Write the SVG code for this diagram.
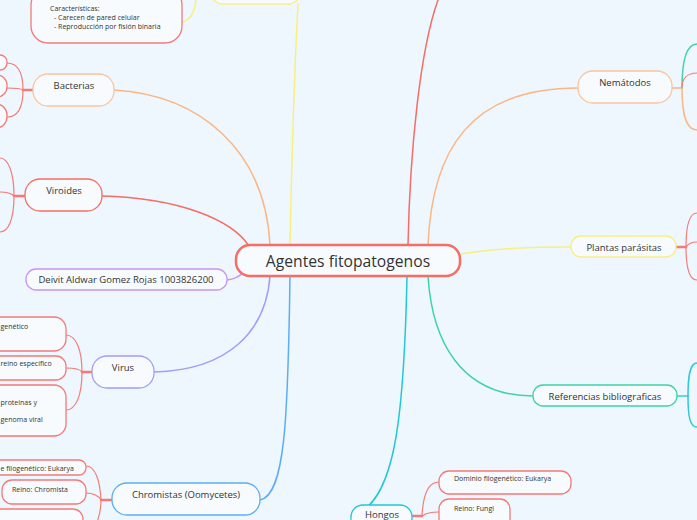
<svg xmlns="http://www.w3.org/2000/svg" width="697" height="520" viewBox="0 0 697 520">
<style>
text{font-family:"Open Sans","Noto Sans","Liberation Sans",sans-serif;fill:#333;}
.c{text-anchor:middle;dominant-baseline:central;font-size:9.5px;}
.s{font-size:7px;dominant-baseline:central;}
.n{fill:#f7fbfe;stroke-width:1.3;}
.leaf{fill:#f7fbfe;stroke:#f47a78;stroke-width:1.3;}
.e{fill:none;stroke-width:1.5;stroke-linecap:round;}
.r{stroke:#f56d66;}
.b{stroke:#f47a78;stroke-width:1.2;}
.bt{stroke:#f47a78;stroke-width:2.5;}
</style>
<rect width="697" height="520" fill="#eef7fd"/>
<g id="connectors">
<path class="e" stroke="#f9ef80" d="M290,245 C292,150 295,60 298,4"/>
<path class="e" stroke="#f9ef80" d="M182,22 C192,20 195,10 196,0"/>
<path class="e r" d="M408,245 C410,150 420,50 438,0"/>
<path class="e" stroke="#fcb583" d="M428,245 C432,150 470,88 578,88"/>
<path class="e" stroke="#f9ef80" d="M460,254 C500,248 530,247 571,247"/>
<path class="e" stroke="#3ed3a8" d="M428,276 C432,340 460,396 533,396"/>
<path class="e" stroke="#22c7d8" d="M407,276 C404,420 395,505 351,516"/>
<path class="e" stroke="#fcb583" d="M114,90 C200,95 265,150 270,245"/>
<path class="e r" d="M102,196 C180,198 232,220 249,246"/>
<path class="e" stroke="#c896ee" d="M227,280 C236,279 240,276 244,272"/>
<path class="e" stroke="#a39cfa" d="M154,372 C230,370 266,330 270,276"/>
<path class="e" stroke="#5cadf5" d="M260,500 C285,495 288,420 290,276"/>
<path class="e" stroke="#f2b28a" stroke-width="2.5" d="M672,88 L682,88"/>
<path class="e" stroke="#3ed3a8" stroke-width="1.2" d="M682,88 C682,60 686,44 697,44"/>
<path class="e b" d="M682,88 C682,78 688,73 697,73"/>
<path class="e" stroke="#fcb583" stroke-width="1.2" d="M682,88 C682,115 686,130 697,130"/>
<path class="e bt" d="M676,247 L686,247"/>
<path class="e b" d="M686,247 C686,225 689,213 697,213"/>
<path class="e b" d="M686,247 C688,244 692,242 697,242"/>
<path class="e b" d="M686,247 C686,268 689,280 697,280"/>
<path class="e" stroke="#3ccfc8" stroke-width="2.5" d="M677,396 L688,396"/>
<path class="e" stroke="#2ec9d6" stroke-width="1.2" d="M688,396 C688,375 690,363 697,363"/>
<path class="e" stroke="#2ec9d6" stroke-width="1.2" d="M688,396 C688,417 690,427 697,427"/>
<path class="e bt" d="M412,516 L422,516"/>
<path class="e b" d="M422,516 C423,495 428,482 439,482"/>
<path class="e b" d="M422,516 C426,513 431,512 439,512"/>
<path class="e bt" d="M33,90 L23,90"/>
<path class="e b" d="M23,90 C23,72 18,63 7,63"/>
<path class="e b" d="M23,90 C20,88 14,88 7,88"/>
<path class="e b" d="M23,90 C23,108 18,117 7,117"/>
<path class="e bt" d="M25,196 L14,196"/>
<path class="e b" d="M14,196 C14,172 8,158 0,158"/>
<path class="e b" d="M14,196 C11,193 6,192 0,192"/>
<path class="e b" d="M14,196 C14,220 8,232 0,232"/>
<path class="e bt" d="M92,372 L82,372"/>
<path class="e b" d="M82,372 C82,350 76,335 66,335"/>
<path class="e b" d="M82,372 C80,369 73,368 66,368"/>
<path class="e b" d="M82,372 C82,395 76,410 66,410"/>
<path class="e bt" d="M112,500 L101,500"/>
<path class="e b" d="M101,500 C100,480 95,466 86,466"/>
<path class="e b" d="M101,500 C99,496 93,493 86,493"/>
<path class="e b" d="M101,500 C101,510 99,517 97,522"/>
</g>
<g id="central"><rect x="236" y="245" width="224" height="31" rx="14" fill="#f7fbfe" stroke="#f56d66" stroke-width="2.5"/><text x="348" y="261" text-anchor="middle" dominant-baseline="central" font-size="15.7">Agentes fitopatogenos</text></g>
<g id="top-yellow"><rect class="n" x="212" y="-20" width="87" height="24" rx="10" stroke="#f9ef80"/></g>
<g id="caracteristicas"><rect class="leaf" x="31" y="-12" width="151" height="55" rx="17"/><text class="s" x="50" y="8">Características:</text><text class="s" x="54" y="17">- Carecen de pared celular</text><text class="s" x="54" y="26">- Reproducción por fisión binaria</text></g>
<g id="bacterias"><rect class="n" x="33" y="74" width="81" height="32" rx="15" stroke="#fcc49b"/><text class="c" x="74" y="85">Bacterias</text></g>
<g id="bact-leaves"><rect class="leaf" x="-30" y="55" width="37" height="15" rx="7"/><rect class="leaf" x="-30" y="75" width="37" height="22" rx="10"/><rect class="leaf" x="-30" y="104" width="37" height="24" rx="11"/></g>
<g id="viroides"><rect class="n" x="25" y="179" width="77" height="32" rx="15" stroke="#f56d66"/><text class="c" x="64" y="190">Viroides</text></g>
<g id="deivit"><rect class="n" x="26" y="269" width="201" height="21" rx="10" stroke="#c896ee"/><text class="c" x="126" y="279.5" font-size="9.3">Deivit Aldwar Gomez Rojas 1003826200</text></g>
<g id="virus"><rect class="n" x="92" y="356" width="62" height="32" rx="15" stroke="#a39cfa"/><text class="c" x="123" y="367">Virus</text></g>
<g id="virus-leaves">
<rect class="leaf" x="-40" y="317" width="106" height="34" rx="12"/><text class="s" x="0.5" y="326">genético</text>
<rect class="leaf" x="-40" y="356" width="106" height="24" rx="10"/><text class="s" x="0.5" y="363">reino específico</text>
<rect class="leaf" x="-40" y="385" width="106" height="51" rx="12"/><text class="s" x="0.5" y="402">proteinas y</text><text class="s" x="0.5" y="419">genoma viral</text>
</g>
<g id="chromistas"><rect class="n" x="112" y="483" width="148" height="32" rx="15" stroke="#5cadf5"/><text class="c" x="186" y="494">Chromistas (Oomycetes)</text></g>
<g id="chrom-leaves">
<rect class="leaf" x="-40" y="460" width="126" height="15" rx="7"/><text class="s" x="0.5" y="468">e filogenético: Eukarya</text>
<rect class="leaf" x="2" y="480" width="84" height="24" rx="10"/><text class="s" x="12" y="489">Reino: Chromista</text>
<rect class="leaf" x="-40" y="509" width="123" height="30" rx="10"/>
</g>
<g id="nematodos"><rect class="n" x="578" y="71" width="94" height="32" rx="15" stroke="#fcc49b"/><text class="c" x="625" y="82">Nemátodos</text></g>
<g id="plantas"><rect class="n" x="571" y="236" width="105" height="21" rx="10" stroke="#f9ef80"/><text class="c" x="624" y="247">Plantas parásitas</text></g>
<g id="referencias"><rect class="n" x="533" y="385" width="144" height="21" rx="10" stroke="#3ed3a8"/><text class="c" x="605" y="396">Referencias bibliograficas</text></g>
<g id="hongos"><rect class="n" x="351" y="505" width="61" height="30" rx="12" stroke="#22c7d8"/><text class="c" x="382" y="514.5">Hongos</text></g>
<g id="hongos-leaves">
<rect class="leaf" x="439" y="471" width="132" height="23" rx="10"/><text class="s" x="454" y="478">Dominio filogenético: Eukarya</text>
<rect class="leaf" x="439" y="499" width="71" height="30" rx="10"/><text class="s" x="454" y="508">Reino: Fungi</text>
</g>
</svg>
